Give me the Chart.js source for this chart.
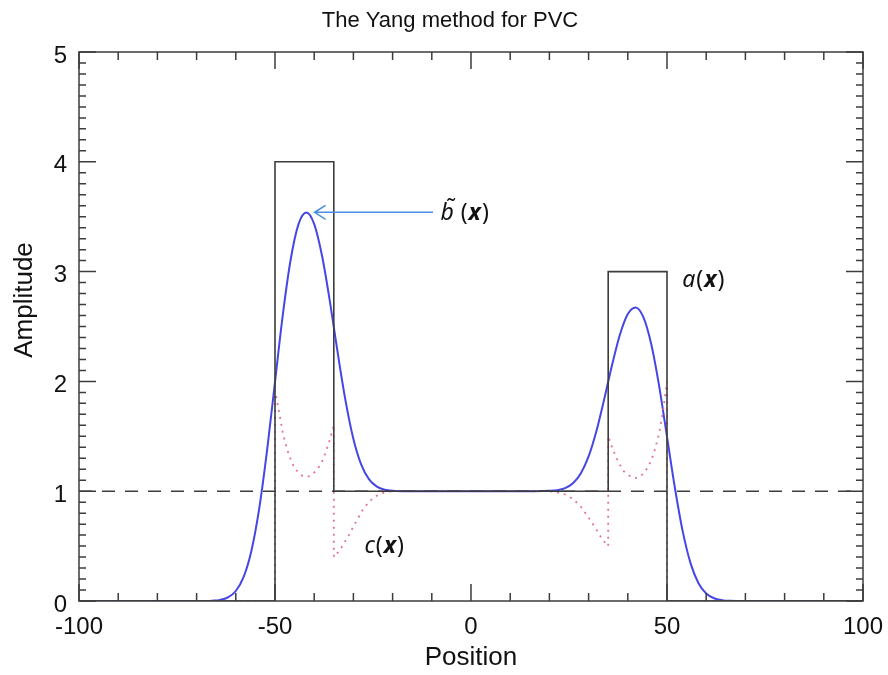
<!DOCTYPE html>
<html>
<head>
<meta charset="utf-8">
<title>The Yang method for PVC</title>
<script src="https://cdn.jsdelivr.net/npm/chart.js@4.4.0/dist/chart.umd.min.js"></script>
<style>
  html, body { margin:0; padding:0; background:#fff; }
</style>
</head>
<body>
<canvas id="grafica" width="888" height="675"></canvas>
<script>
// a(x): perfil real (escalones)
const aX = [-100, -50, -50, -35, -35, 35, 35, 50, 50, 100];
const aY = [0, 0, 4, 4, 1, 1, 3, 3, 0, 0];

// linea de referencia y = 1
const refX = [-100, 100];
const refY = [1, 1];

// b~(x): imagen suavizada
const bX = [-100, -70, -66, -64, -62, -60, -58, -56, -54, -52, -50, -48, -46, -44, -42, -40, -38, -36, -34, -32, -30, -28, -26, -24, -22, -20, -16,
            16, 20, 22, 24, 26, 28, 30, 32, 34, 36, 38, 40, 42, 44, 46, 48, 50, 52, 54, 56, 58, 60, 62, 64, 66, 70, 100];
const bY = [0, 0, 0.003, 0.010, 0.033, 0.091, 0.219, 0.460, 0.848, 1.378, 1.996, 2.608, 3.110, 3.432, 3.539, 3.433, 3.144, 2.728, 2.259, 1.823, 1.476, 1.242, 1.108, 1.042, 1.014, 1.004, 1.0,
            1.0, 1.003, 1.009, 1.028, 1.072, 1.162, 1.317, 1.549, 1.841, 2.151, 2.427, 2.614, 2.674, 2.583, 2.336, 1.957, 1.497, 1.034, 0.636, 0.345, 0.164, 0.068, 0.025, 0.008, 0.002, 0, 0];

// c(x): factor de correccion (punteado)
const cX = [-100, -50, -50, -49, -48, -47, -46, -45, -44, -43, -42, -41, -40, -39, -38, -37, -36, -35, -35, -34, -33, -32, -31, -30, -29, -28, -27, -26, -25, -24, -22, -20, -16,
            16, 20, 22, 24, 26, 28, 30, 32, 33, 34, 35, 35, 36, 37, 38, 39, 40, 41, 42, 43, 44, 45, 46, 47, 48, 49, 50, 50, 100];
const cY = [0, 0, 1.92, 1.73, 1.53, 1.39, 1.29, 1.21, 1.17, 1.14, 1.13, 1.14, 1.17, 1.21, 1.27, 1.36, 1.47, 1.60, 0.40, 0.44, 0.49, 0.55, 0.61, 0.68, 0.74, 0.81, 0.86, 0.90, 0.94, 0.96, 0.99, 1.0, 1.0,
            1.0, 1.0, 0.99, 0.97, 0.93, 0.86, 0.76, 0.65, 0.59, 0.54, 0.50, 1.50, 1.40, 1.31, 1.24, 1.18, 1.15, 1.13, 1.12, 1.13, 1.16, 1.21, 1.28, 1.39, 1.53, 1.73, 2.0, 0, 0];

const xTicks = [-100, -50, 0, 50, 100];
const yTicks = [0, 1, 2, 3, 4, 5];

const fuente = '"Liberation Sans", Arial, Helvetica, sans-serif';
const puntos = (xs, ys) => xs.map((x, i) => ({ x: x, y: ys[i] }));

const marco = {
    id: 'marco',
    afterDraw(chart) {
        const { ctx, chartArea: ca, scales: { x, y } } = chart;
        ctx.save();
        ctx.strokeStyle = '#3c3c3c';
        ctx.lineWidth = 1.5;
        ctx.strokeRect(ca.left, ca.top, ca.right - ca.left, ca.bottom - ca.top);

        // marcas hacia dentro, como en IDL
        ctx.beginPath();
        for (let v = -100; v <= 100; v += 10) {
            const px = x.getPixelForValue(v);
            const len = v % 50 === 0 ? 17 : 8;
            ctx.moveTo(px, ca.bottom); ctx.lineTo(px, ca.bottom - len);
            ctx.moveTo(px, ca.top); ctx.lineTo(px, ca.top + len);
        }
        for (let i = 0; i <= 50; i++) {
            const py = y.getPixelForValue(i / 10);
            const len = i % 10 === 0 ? 17 : 7;
            ctx.moveTo(ca.left, py); ctx.lineTo(ca.left + len, py);
            ctx.moveTo(ca.right, py); ctx.lineTo(ca.right - len, py);
        }
        ctx.stroke();

        // titulo y eje Y
        ctx.fillStyle = '#111';
        ctx.textAlign = 'center';
        ctx.textBaseline = 'middle';
        ctx.font = '22px ' + fuente;
        ctx.fillText('The Yang method for PVC', 450, 21);
        ctx.save();
        ctx.translate(25, 300);
        ctx.rotate(-Math.PI / 2);
        ctx.font = '26px ' + fuente;
        ctx.fillText('Amplitude', 0, 0);
        ctx.restore();

        // flecha hacia b~(x)
        const ay = y.getPixelForValue(3.54);
        const x0 = x.getPixelForValue(-9.7), x1 = x.getPixelForValue(-39.9);
        ctx.strokeStyle = '#4a8fe3';
        ctx.lineWidth = 1.6;
        ctx.beginPath();
        ctx.moveTo(x0, ay); ctx.lineTo(x1, ay);
        ctx.moveTo(x1 + 11, ay - 7); ctx.lineTo(x1, ay); ctx.lineTo(x1 + 11, ay + 7);
        ctx.stroke();

        // rotulos
        ctx.fillStyle = '#111';
        ctx.textAlign = 'left';
        const it = 'italic 23px "Noto Sans", ' + fuente;
        const nor = '23px "Noto Sans", ' + fuente;
        const neg = 'italic bold 23px "Noto Sans", ' + fuente;
        const rotulo = (piezas, px, py) => {
            let cx = px;
            piezas.forEach(([t, f]) => { ctx.font = f; ctx.fillText(t, cx, py); cx += ctx.measureText(t).width + 1; });
        };
        rotulo([['b\u0303', it], [' (', nor], ['x', neg], [')', nor]], x.getPixelForValue(-7.8), y.getPixelForValue(3.53));
        rotulo([['a', it], ['(', nor], ['x', neg], [')', nor]], x.getPixelForValue(53.9), y.getPixelForValue(2.92));
        rotulo([['c', it], ['(', nor], ['x', neg], [')', nor]], x.getPixelForValue(-27.2), y.getPixelForValue(0.50));
        ctx.restore();
    }
};

new Chart(document.getElementById('grafica'), {
    type: 'line',
    data: {
        datasets: [
            { data: puntos(refX, refY), borderColor: '#3c3c3c', borderWidth: 1.6, borderDash: [13, 10], tension: 0 },
            { data: puntos(aX, aY), borderColor: '#3c3c3c', borderWidth: 1.6, tension: 0 },
            { data: puntos(cX, cY), borderColor: '#e2738c', borderWidth: 1.8, borderDash: [2, 5], tension: 0 },
            { data: puntos(bX, bY), borderColor: '#4646e6', borderWidth: 2, cubicInterpolationMode: 'monotone' }
        ]
    },
    options: {
        responsive: false,
        animation: false,
        elements: { point: { radius: 0 } },
        layout: { padding: { top: 52, right: 25, bottom: 0, left: 0 } },
        plugins: { legend: { display: false }, tooltip: { enabled: false }, title: { display: false } },
        scales: {
            x: {
                type: 'linear', min: -100, max: 100,
                afterBuildTicks: s => { s.ticks = xTicks.map(v => ({ value: v })); },
                afterFit: s => { s.height = 74; s.paddingLeft = 0; s.paddingRight = 0; },
                grid: { display: false, drawTicks: false },
                border: { display: false },
                ticks: { color: '#111', padding: 12, maxRotation: 0, font: { family: fuente, size: 24 } },
                title: { display: true, text: 'Position', color: '#111', padding: { top: 0, bottom: 2 }, font: { family: fuente, size: 26 } }
            },
            y: {
                min: 0, max: 5,
                afterBuildTicks: s => { s.ticks = yTicks.map(v => ({ value: v })); },
                afterFit: s => { s.width = 79; },
                grid: { display: false, drawTicks: false },
                border: { display: false },
                ticks: { color: '#111', padding: 12, labelOffset: 4, font: { family: fuente, size: 24 } }
            }
        }
    },
    plugins: [marco]
});
</script>
</body>
</html>
